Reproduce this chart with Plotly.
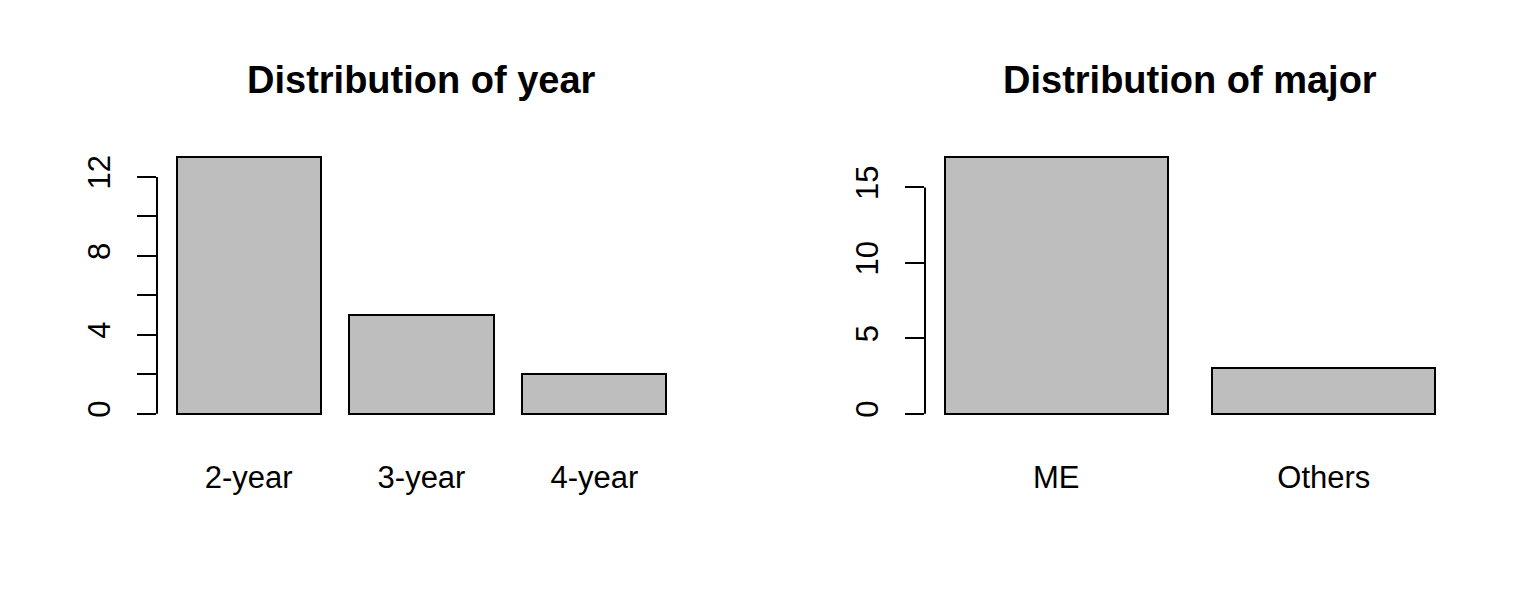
import plotly.graph_objects as go

# data
year_labels = ["2-year", "3-year", "4-year"]
year_counts = [13, 5, 2]
year_ticks = [0, 2, 4, 6, 8, 10, 12]
year_ticktext = ["0", "", "4", "", "8", "", "12"]

major_labels = ["ME", "Others"]
major_counts = [17, 3]
major_ticks = [0, 5, 10, 15]
major_ticktext = ["0", "5", "10", "15"]

FONT = "Liberation Sans, Arial, sans-serif"
BAR_W = 1 / 1.2  # R barplot: width 1, space 0.2


def x_range(n):
    span = (n - 1) + BAR_W
    pad = 0.04 * span
    return [-BAR_W / 2 - pad, n - 1 + BAR_W / 2 + pad]


def y_range(vals):
    m = max(vals)
    return [-0.04 * m, 1.04 * m]


fig = go.Figure()

fig.add_trace(go.Bar(
    x=year_labels, y=year_counts, width=BAR_W,
    marker=dict(color="#bebebe", line=dict(color="black", width=2)),
    xaxis="x", yaxis="y", showlegend=False, hoverinfo="x+y"
))
fig.add_trace(go.Bar(
    x=major_labels, y=major_counts, width=BAR_W,
    marker=dict(color="#bebebe", line=dict(color="black", width=2)),
    xaxis="x2", yaxis="y2", showlegend=False, hoverinfo="x+y"
))

W, H = 1536, 614
OFF = 8  # page body margin pushes the figure by 8px


def px_x(p):
    return (p - OFF) / W


def px_y(p):
    return 1 - (p - OFF) / H


left_dom = [px_x(157), px_x(686)]
right_dom = [px_x(925), px_x(1455)]
y_dom = [px_y(424), px_y(147)]

xcommon = dict(showgrid=False, zeroline=False, showline=False, ticks="",
               tickfont=dict(family=FONT, size=31, color="black"),
               ticklabelstandoff=32, fixedrange=True)
ycommon = dict(showgrid=False, zeroline=False, showline=False, ticks="outside",
               ticklen=19, tickwidth=2, tickcolor="black", tickangle=-90,
               tickfont=dict(family=FONT, size=31, color="black"),
               ticklabelstandoff=15, fixedrange=True)

fig.update_layout(
    width=W, height=H,
    margin=dict(l=0, r=0, t=0, b=0),
    paper_bgcolor="white", plot_bgcolor="white",
    bargap=0,
    xaxis=dict(domain=left_dom, range=x_range(len(year_labels)), anchor="y", **xcommon),
    yaxis=dict(domain=y_dom, range=y_range(year_counts), anchor="x",
               tickvals=year_ticks, ticktext=year_ticktext, **ycommon),
    xaxis2=dict(domain=right_dom, range=x_range(len(major_labels)), anchor="y2", **xcommon),
    yaxis2=dict(domain=y_dom, range=y_range(major_counts), anchor="x2",
                tickvals=major_ticks, ticktext=major_ticktext, **ycommon),
)

# R style axis lines: only from first to last tick
fig.add_shape(type="line", xref="x domain", yref="y", x0=0, x1=0,
              y0=year_ticks[0], y1=year_ticks[-1], line=dict(color="black", width=2))
fig.add_shape(type="line", xref="x2 domain", yref="y2", x0=0, x1=0,
              y0=major_ticks[0], y1=major_ticks[-1], line=dict(color="black", width=2))

# titles
for txt, dom in [("Distribution of year", left_dom), ("Distribution of major", right_dom)]:
    fig.add_annotation(
        text="<b>" + txt + "</b>", xref="paper", yref="paper",
        x=(dom[0] + dom[1]) / 2, y=px_y(80), xanchor="center", yanchor="middle",
        showarrow=False, font=dict(family=FONT, size=38, color="black")
    )

fig.write_html("out.html")
